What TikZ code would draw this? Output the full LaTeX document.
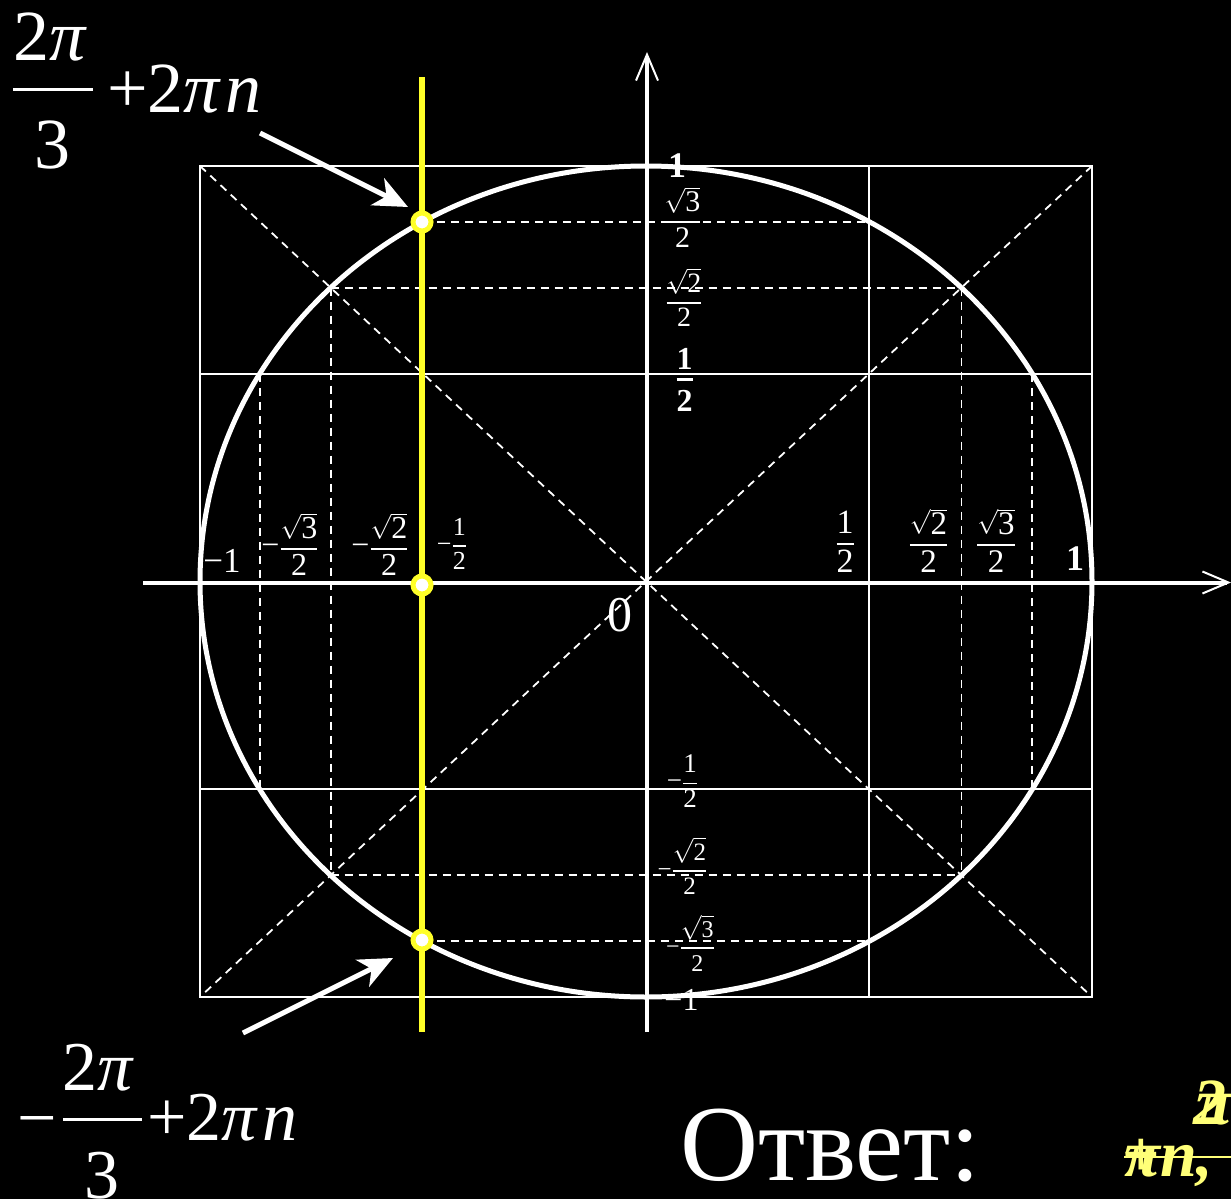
\documentclass[tikz,border=0pt]{standalone}
\usepackage{amsmath}
\usepackage{exscale}
\usepackage{fontspec}
\setmainfont{Liberation Serif}
\usetikzlibrary{arrows.meta}
\definecolor{ylw}{RGB}{255,255,40}
\definecolor{ylwtxt}{RGB}{255,255,120}
\newcommand{\tx}[1]{\hbox{#1}}
\newcommand{\rt}[1]{\sqrt{\hbox{#1}}}
\newcommand{\fr}[2]{\genfrac{}{}{1.6pt}{0}{#1}{#2}}
\newcommand{\bfr}[2]{\genfrac{}{}{3pt}{0}{#1}{#2}}
\newcommand{\fsz}[1]{\fontsize{#1}{#1}\selectfont}
\begin{document}
\begin{tikzpicture}[x=1pt,y=-1pt,
  lab/.style={text=white, inner sep=0pt, anchor=base},
  gridline/.style={white, line width=1.6pt},
  dsh/.style={white, line width=1.8pt, dash pattern=on 8pt off 6pt},
  axis/.style={white, line width=4pt, -{Straight Barb[length=26pt,width=22pt,line width=2pt]}},
  pointer/.style={white, line width=5pt, -{Stealth[length=34pt,width=30pt,inset=10pt]}},
  fracbar/.style={white, line width=3pt},
  pt/.style={circle, draw=ylw, line width=5pt, fill=white, minimum size=18pt, inner sep=0pt}]
\fill[black] (0,0) rectangle (1231,1199);
\useasboundingbox (0,0) rectangle (1231,1199);
% grid square
\draw[gridline] (200,166) rectangle (1092,997);
\draw[gridline] (200,373.75) -- (1092,373.75);
\draw[gridline] (200,789.25) -- (1092,789.25);
\draw[gridline] (869,166) -- (869,997);
\draw[gridline] (423,166) -- (423,997);
% dashed lines
\draw[dsh] (200,166) -- (1092,997);
\draw[dsh] (1092,166) -- (200,997);
\draw[dsh] (259.8,373.75) -- (259.8,789.25);
\draw[dsh] (1032.2,373.75) -- (1032.2,789.25);
\draw[dsh] (330.6,287.7) -- (330.6,875.3);
\draw[dsh] (961.4,287.7) -- (961.4,875.3);
\draw[dsh] (423,221.7) -- (869,221.7);
\draw[dsh] (423,941.3) -- (869,941.3);
\draw[dsh] (330.6,287.7) -- (961.4,287.7);
\draw[dsh] (330.6,875.3) -- (961.4,875.3);
% circle
\draw[white, line width=5pt] (646,581.5) ellipse [x radius=446, y radius=415.5];
% axes
\coordinate (xs) at (143,582.5);
\coordinate (xe) at (1231,582.5);
\coordinate (ys) at (647,1032);
\coordinate (ye) at (647,52);
\draw[axis] (xs) -- (xe);
\draw[axis] (ys) -- (ye);
% yellow line
\coordinate (ls) at (422,77);
\coordinate (le) at (422,1032);
\draw[ylw, line width=6pt] (ls) -- (le);
\node[pt] (p1) at (422,222) {};
\node[pt] (p2) at (422,585) {};
\node[pt] (p3) at (422,940) {};
% pointers
\coordinate (a1s) at (260,133);
\coordinate (a1e) at (408,207);
\coordinate (a2s) at (243,1033);
\coordinate (a2e) at (393,958);
\draw[pointer] (a1s) -- (a1e);
\draw[pointer] (a2s) -- (a2e);
% x-axis labels
\node[lab, font=\fsz{35}] (xm1) at (222,572) {−1};
\node[lab, font=\fsz{32}] (xms3) at (290,555) {$\tx{−}\fr{\rt{3}}{\tx{2}}$};
\node[lab, font=\fsz{32}] (xms2) at (380,555) {$\tx{−}\fr{\rt{2}}{\tx{2}}$};
\node[lab, font=\fsz{26}] (xmh) at (452,552.5) {$\tx{−}\fr{\tx{1}}{\tx{2}}$};
\node[lab, font=\fsz{34}] (xh) at (845,550.5) {$\fr{\tx{1}}{\tx{2}}$};
\node[lab, font=\fsz{33}] (xs2) at (928.5,551) {$\fr{\rt{2}}{\tx{2}}$};
\node[lab, font=\fsz{33}] (xs3) at (996,551) {$\fr{\rt{3}}{\tx{2}}$};
\node[lab, font=\fsz{36}\bfseries] (x1) at (1075,570) {1};
% y-axis labels
\node[lab, font=\fsz{36}\bfseries] (y1) at (677,177) {1};
\node[lab, font=\fsz{30}] (ys3) at (682.5,228.5) {$\fr{\rt{3}}{\tx{2}}$};
\node[lab, font=\fsz{28}] (ys2) at (684,309) {$\fr{\rt{2}}{\tx{2}}$};
\node[lab, font=\fsz{32}\bfseries] (yh) at (684.5,386) {$\bfr{\tx{1}}{\tx{2}}$};
\node[lab, font=\fsz{27}] (ymh) at (682.5,789.75) {$\tx{−}\fr{\tx{1}}{\tx{2}}$};
\node[lab, font=\fsz{25}] (yms2) at (682.5,877) {$\tx{−}\fr{\rt{2}}{\tx{2}}$};
\node[lab, font=\fsz{24}] (yms3) at (690.5,954) {$\tx{−}\fr{\rt{3}}{\tx{2}}$};
\node[lab, font=\fsz{32}] (ym1) at (681.5,1010) {−1};
\node[lab, font=\fsz{50}] (zero) at (620,631) {0};
% big label, top
\node[lab, font=\fsz{72}] (tnum) at (50,61) {2\textit{π}};
\coordinate (tb1) at (13,89);
\coordinate (tb2) at (93,89);
\draw[fracbar] (tb1) -- (tb2);
\node[lab, font=\fsz{72}] (tden) at (52.5,168) {3};
\node[lab, anchor=base west, font=\fsz{72}] (trest) at (107,112) {+2\textit{π}\hspace{4pt}\textit{n}};
% big label, bottom
\node[lab, font=\fsz{70}] (bminus) at (37.5,1141) {−};
\node[lab, font=\fsz{70}] (bnum) at (98,1090) {2\textit{π}};
\coordinate (bb1) at (63,1119);
\coordinate (bb2) at (142,1119);
\draw[fracbar] (bb1) -- (bb2);
\node[lab, font=\fsz{70}] (bden) at (101.5,1198) {3};
\node[lab, anchor=base west, font=\fsz{70}] (brest) at (147,1140) {+2\textit{π}\hspace{4pt}\textit{n}};
% answer
\node[lab, anchor=base west, font=\fsz{108}] (otvet) at (680,1180) {Ответ:};
\node[lab, anchor=base west, text=ylwtxt, font=\fsz{66}\bfseries\itshape] (ans1) at (1193,1124) {2};
\node[lab, anchor=base west, text=ylwtxt, font=\fsz{66}\bfseries\itshape] (ans2) at (1196,1124) {π};
\node[lab, anchor=base west, text=ylwtxt, font=\fsz{66}\bfseries\itshape] (ans3) at (1124,1176) {πn,};
\node[lab, anchor=base west, text=ylwtxt, font=\fsz{66}\bfseries] (ans4) at (1122,1176) {+};
\coordinate (bs) at (1124,1157);
\coordinate (be) at (1231,1157);
\draw[ylwtxt, line width=2pt] (bs) -- (be);
\end{tikzpicture}
\end{document}
